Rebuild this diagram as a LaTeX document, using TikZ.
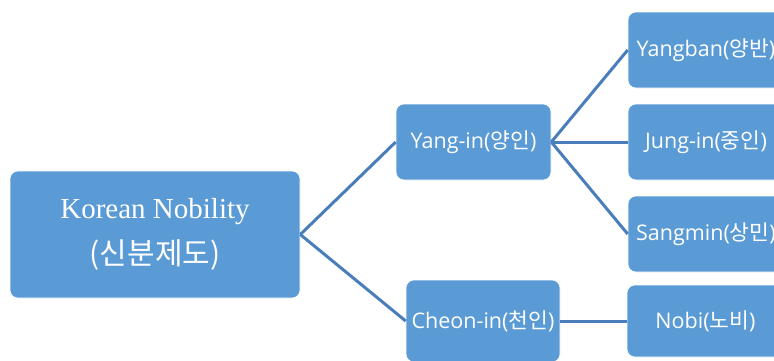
\documentclass[tikz,border=0pt]{standalone}
\usepackage{fontspec}
\setmainfont{Liberation Serif}
\newfontfamily\krfont{Noto Sans CJK KR}
\newfontfamily\lbfont{Open Sans}
\newcommand{\lbl}[2]{{\lbfont #1(}{\krfont #2}{\lbfont )}}
\definecolor{boxblue}{HTML}{5B9BD5}
\definecolor{linkblue}{HTML}{4A7EBB}
\begin{document}
\begin{tikzpicture}[x=1pt,y=-1pt,
  tree/.style={fill=boxblue,draw=white,line width=0.6pt,rounded corners=8pt,
    text=white,align=center,inner sep=0pt},
  leaf/.style={tree,minimum width=155pt,minimum height=76pt,font=\fontsize{21.5}{24}\selectfont},
  link/.style={draw=linkblue,line width=3pt}]
\useasboundingbox (0,0) rectangle (774,360);
\clip (0,0) rectangle (774,360);
\fill[white] (0,0) rectangle (774,360);
% root of the hierarchy
\node[tree,minimum width=290pt,minimum height=127pt] (root) at (155,234.5)
  {{\fontsize{29}{30}\selectfont Korean Nobility}\\[14pt]
   {\krfont\fontsize{30}{30}\selectfont (신분제도)}};
% second level
\node[leaf] (yangin) at (473.5,142) {\lbl{Yang-in}{양인}};
\node[leaf,minimum width=154pt,minimum height=82pt] (cheonin) at (483,321) {\lbl{Cheon-in}{천인}};
% third level
\node[leaf,minimum width=156pt] (yangban) at (706,50) {\lbl{Yangban}{양반}};
\node[leaf,minimum width=156pt] (jungin) at (706,142) {\lbl{Jung-in}{중인}};
\node[leaf,minimum width=156pt] (sangmin) at (706,234) {\lbl{Sangmin}{상민}};
\node[leaf,minimum width=157pt,minimum height=72pt] (nobi) at (705.5,321) {\lbl{Nobi}{노비}};
% connectors
\draw[link] (root.east) -- (yangin.west);
\draw[link] (root.east) -- (cheonin.west);
\draw[link] (yangin.east) -- (yangban.west);
\draw[link] (yangin.east) -- (jungin.west);
\draw[link] (yangin.east) -- (sangmin.west);
\draw[link] (cheonin.east) -- (nobi.west);
\end{tikzpicture}
\end{document}
